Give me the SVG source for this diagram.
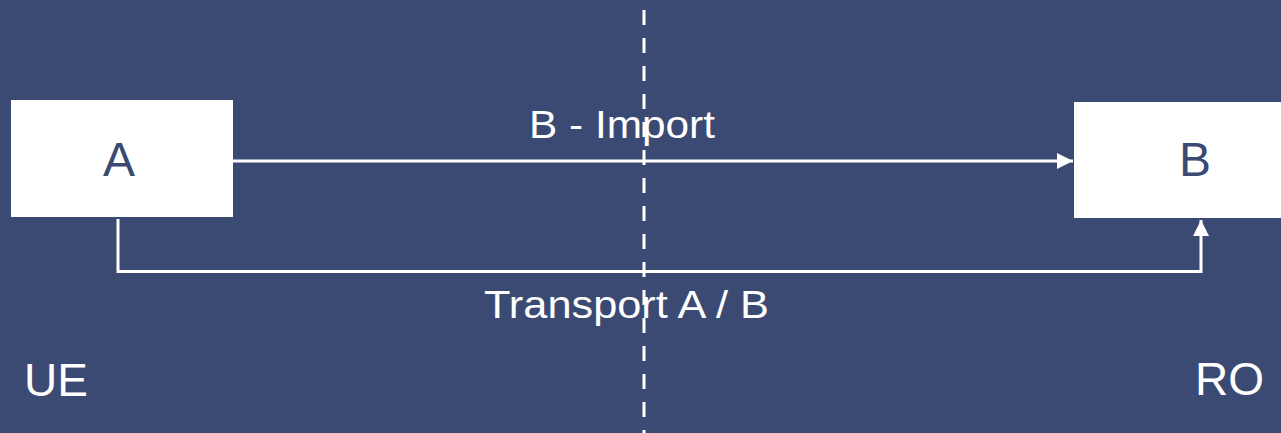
<svg xmlns="http://www.w3.org/2000/svg" width="1281" height="433" viewBox="0 0 1281 433">
<defs>
<style>
.box{fill:#ffffff}
.boxlbl{font-family:"Liberation Sans",Arial,sans-serif;font-size:48px;fill:#3B4A72;text-anchor:middle}
.lbl{font-family:"Liberation Sans",Arial,sans-serif;font-size:38px;fill:#ffffff}
.side{font-family:"Liberation Sans",Arial,sans-serif;font-size:46px;fill:#ffffff}
.conn{stroke:#ffffff;stroke-width:3;fill:none}
</style>
<marker id="ah" markerWidth="16" markerHeight="16" viewBox="0 0 16 16" refX="16" refY="8" orient="auto" markerUnits="userSpaceOnUse">
<path d="M0,0 L16,8 L0,16 Z" fill="#ffffff"/>
</marker>
</defs>
<rect x="0" y="0" width="1281" height="433" fill="#3B4A72"/>
<line x1="644" y1="10" x2="644" y2="433" stroke="#ffffff" stroke-width="3" stroke-dasharray="15 13"/>
<g id="nodeA">
<rect class="box" x="11" y="100" width="222" height="117"/>
<text class="boxlbl" x="119" y="176">A</text>
</g>
<g id="nodeB">
<rect class="box" x="1074" y="102" width="207" height="116"/>
<text class="boxlbl" x="1195" y="176">B</text>
</g>
<g id="connectors">
<line class="conn" x1="233" y1="161" x2="1073" y2="161" marker-end="url(#ah)"/>
<polyline class="conn" points="118,219 118,271.5 1201,271.5 1201,220" marker-end="url(#ah)"/>
</g>
<g id="labels">
<text class="lbl" x="529" y="138" textLength="186" lengthAdjust="spacingAndGlyphs">B - Import</text>
<text class="lbl" x="484" y="318" textLength="285" lengthAdjust="spacingAndGlyphs">Transport A / B</text>
<text class="side" x="24" y="396">UE</text>
<text class="side" x="1195" y="395">RO</text>
</g>
</svg>
